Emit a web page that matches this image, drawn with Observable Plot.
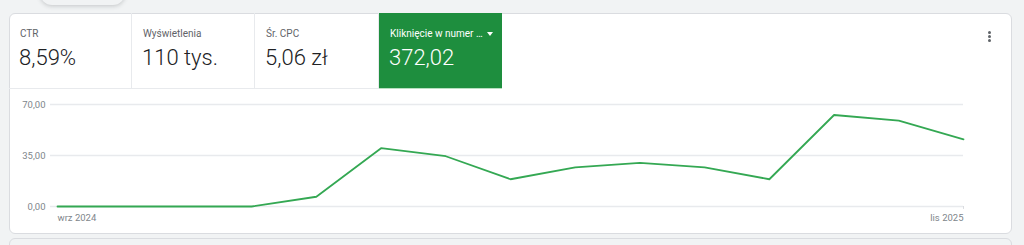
<!DOCTYPE html>
<html><head><meta charset="utf-8">
<script src="https://cdn.jsdelivr.net/npm/d3@7"></script>
<script src="https://cdn.jsdelivr.net/npm/@observablehq/plot@0.6"></script>
<style>
html,body{margin:0;padding:0;width:1024px;height:245px;overflow:hidden;background:#f1f3f4;font-family:Roboto,"Noto Sans",sans-serif;}
.blob{position:absolute;left:40px;top:-20px;width:85px;height:25px;border-radius:12px;background:#f1f3f4;box-shadow:0 1px 4px rgba(60,64,67,0.25);}
.card{position:absolute;left:9px;top:13px;width:1001px;height:219px;background:#fff;border:1px solid #dadce0;border-radius:6px;}
.next{position:absolute;left:9px;top:238px;width:1001px;height:30px;background:#f1f3f4;border:1px solid #dadce0;border-radius:6px;}
.tile{position:absolute;top:13px;height:76px;box-sizing:border-box;border-right:1px solid #e8eaed;border-bottom:1px solid #e8eaed;}
.tile .lab{position:absolute;left:11px;top:15px;font-size:10px;color:#5f6368;}
.tile .val{position:absolute;left:10px;top:32px;font-size:22px;font-weight:300;color:#202124;}
.green{background:#1e8e3e;border-bottom:1px solid #b7dfc0;border-right:none;}
.green .lab,.green .val{color:#fff;}
.tri{position:absolute;left:108px;top:19px;width:0;height:0;border-left:3.5px solid transparent;border-right:3.5px solid transparent;border-top:4px solid #fff;}
.kebab{position:absolute;left:988px;top:31px;width:3px;}
.kebab div{width:3px;height:3px;border-radius:50%;background:#5f6368;margin-bottom:1px;}
#chart{position:absolute;left:0;top:90px;width:1024px;height:136px;}
#chart svg{max-width:none !important;width:1024px;height:136px;display:block;}
</style></head>
<body>
<div class="blob"></div>
<div class="card"></div>
<div class="next"></div>
<div id="tiles"></div>
<div class="kebab"><div></div><div></div><div></div></div>
<div id="chart"></div>
<script>
const metricLabels = ["CTR", "Wyświetlenia", "Śr. CPC", "Kliknięcie w numer …"];
const metricValues = ["8,59%", "110 tys.", "5,06 zł", "372,02"];
const months = ["2024-09","2024-10","2024-11","2024-12","2025-01","2025-02","2025-03","2025-04","2025-05","2025-06","2025-07","2025-08","2025-09","2025-10","2025-11"];
const clicks = [0, 0, 0, 0, 6.7, 40.0, 34.5, 18.7, 26.9, 30.0, 26.9, 18.7, 62.8, 58.9, 46.1];
const yTicks = [0, 35, 70];
const xTickLabels = ["wrz 2024", "lis 2025"];

const tilesEl = document.getElementById("tiles");
const tileLeft = [9, 132, 255, 379];
const tileWidth = [123, 123, 124, 123];
metricLabels.forEach((l, i) => {
  const t = document.createElement("div");
  t.className = "tile" + (i === 3 ? " green" : "");
  t.style.left = tileLeft[i] + "px";
  t.style.width = tileWidth[i] + "px";
  t.innerHTML = `<div class="lab">${l}</div><div class="val">${metricValues[i]}</div>` + (i === 3 ? '<div class="tri"></div>' : "");
  tilesEl.appendChild(t);
});

const data = months.map((m, i) => ({month: m, value: clicks[i]}));
const fmt = v => v.toFixed(2).replace(".", ",");
const xLab = [{month: months[0], label: xTickLabels[0]}, {month: months[months.length - 1], label: xTickLabels[1]}];

const chart = Plot.plot({
  width: 1024,
  height: 136,
  marginLeft: 57,
  marginRight: 61,
  marginTop: 14,
  marginBottom: 20,
  style: {fontFamily: "Roboto, sans-serif", background: "transparent", overflow: "visible"},
  x: {type: "point", domain: months, padding: 0, round: false, axis: null},
  y: {domain: [0, 70], axis: null},
  marks: [
    Plot.ruleY(yTicks, {stroke: "#e8eaed", strokeWidth: 1.5, insetLeft: -7}),
    Plot.text(yTicks, {x: () => months[0], y: d => d, text: fmt, textAnchor: "end", dx: -12, fill: "#80868b", fontSize: 9.5}),
    Plot.ruleX([xLab[1]], {x: "month", y1: 0, y2: -2, stroke: "#dadce0", strokeWidth: 1}),
    Plot.text([xLab[0]], {x: "month", y: 0, text: "label", textAnchor: "start", dy: 11.5, fill: "#80868b", fontSize: 9.5}),
    Plot.text([xLab[1]], {x: "month", y: 0, text: "label", textAnchor: "end", dy: 11.5, fill: "#80868b", fontSize: 9.5}),
    Plot.line(data, {x: "month", y: "value", stroke: "#34a853", strokeWidth: 1.8, strokeLinejoin: "round"})
  ]
});
document.getElementById("chart").appendChild(chart);
</script>
</body></html>
